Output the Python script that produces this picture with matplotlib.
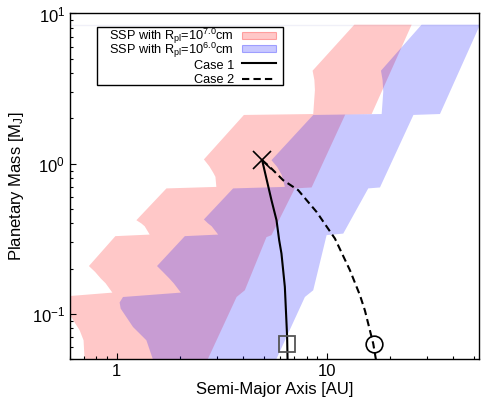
# -*- coding: utf-8 -*-
## SSP regions and planet migration tracks
import matplotlib
matplotlib.use("Agg")
import matplotlib.pyplot as plt
from matplotlib.patches import Rectangle
from matplotlib.ticker import FixedLocator, NullFormatter

plt.rcParams['font.family'] = ['Liberation Sans', 'DejaVu Sans']
plt.rcParams['mathtext.fontset'] = 'custom'
plt.rcParams['mathtext.rm'] = 'Liberation Sans'
plt.rcParams['mathtext.it'] = 'Liberation Sans:italic'

# SSP region, R_pl = 10^7 cm (outline: semi-major axis [AU], mass [MJ])
ssp7_a = [13.5, 8.55, 8.72, 8.77, 8.61, 4.03, 2.60, 2.76, 2.88, 2.95, 2.98, 1.725, 1.241,
          1.31, 1.359, 1.436, 0.986, 0.738, 0.79, 0.84, 0.886, 0.954, 0.524, 0.571, 0.608,
          0.667, 0.696, 0.704, 0.712, 2.50, 2.72, 3.72, 4.07, 5.16, 5.45, 7.04,
          8.46, 12.22, 16.33, 25.3]
ssp7_m = [8.42, 4.16, 3.6, 3.09, 2.14, 2.11, 1.067, 0.96, 0.87, 0.817, 0.700, 0.684, 0.420,
          0.40, 0.383, 0.337, 0.329, 0.208, 0.19, 0.172, 0.1597, 0.1384, 0.1294, 0.1105, 0.0952,
          0.0776, 0.0666, 0.0495, 0.0389, 0.0389, 0.0502, 0.1294, 0.1434, 0.324, 0.334, 0.684,
          0.694, 2.12, 2.14, 8.42]

# SSP region, R_pl = 10^6 cm
ssp6_a = [28.2, 18.08, 18.40, 18.54, 18.22, 8.61, 5.45, 5.80, 6.10, 6.31, 3.58, 2.60, 2.72,
          2.83, 3.04, 2.11, 1.556, 1.66, 1.78, 1.868, 2.02, 1.072, 1.033, 1.045, 1.196,
          1.385, 1.489, 1.517, 5.29, 5.76, 7.86, 8.61, 9.97, 11.96, 15.73,
          17.88, 25.8, 34.5, 53.5]
ssp6_m = [8.42, 4.16, 3.6, 3.01, 2.14, 2.11, 1.055, 0.95, 0.84, 0.700, 0.684, 0.425, 0.40,
          0.383, 0.337, 0.329, 0.208, 0.19, 0.172, 0.1597, 0.1384, 0.1294, 0.119, 0.1083, 0.0817,
          0.0666, 0.0495, 0.0389, 0.0389, 0.0502, 0.1294, 0.1434, 0.334, 0.342, 0.684,
          0.694, 2.11, 2.14, 8.42]

# Case 1 / Case 2 tracks
case1_a = [4.92, 5.45, 5.76, 5.93, 6.08, 6.31, 6.47, 6.50]
case1_m = [1.055, 0.571, 0.420, 0.309, 0.252, 0.151, 0.070, 0.0495]
case2_a = [4.92, 5.35, 6.19, 7.30, 8.93, 10.92, 12.87, 14.36, 15.17, 16.61, 17.11]
case2_m = [1.055, 0.952, 0.776, 0.666, 0.477, 0.317, 0.195, 0.133, 0.105, 0.0633, 0.0495]

# start and end points
start_a, start_m = 4.92, 1.055
end1_a, end1_m = 6.47, 0.0626
end2_a, end2_m = 16.7, 0.0626

labels = [r'SSP with R$_{\rm pl}$=10$^{7.0}$cm', r'SSP with R$_{\rm pl}$=10$^{6.0}$cm',
          'Case 1', 'Case 2']

PINK = (1, 0, 0, 0.215)
BLUE = (0, 0, 1, 0.215)

fig = plt.figure(figsize=(5, 4), dpi=100)
ax = fig.add_axes([0.14, 0.1025, 0.818, 0.8638])

ax.fill(ssp7_a, ssp7_m, facecolor=PINK, edgecolor='none', zorder=1)
ax.fill(ssp6_a, ssp6_m, facecolor=BLUE, edgecolor='none', zorder=2)
ax.axhline(8.42, color='#f0f0f8', lw=1, zorder=0)

ax.plot(case1_a, case1_m, color='black', lw=1.5, zorder=4)
ax.plot(case2_a, case2_m, color='black', lw=1.5, dashes=(3.5, 2), zorder=4)
ax.plot(start_a, start_m, marker='x', ms=13, mew=1.2, color='black', zorder=5)
ax.plot(end1_a, end1_m, marker='s', ms=12, mew=1.3, mfc='none', mec='#555555', zorder=5)
ax.plot(end2_a, end2_m, marker='o', ms=12, mew=1.2, mfc='none', mec='black', zorder=5)

ax.set_xscale('log')
ax.set_yscale('log')
ax.set_xlim(0.6, 52.9)
ax.set_ylim(0.05, 10)

ax.set_xticks([1, 10])
ax.set_xticklabels(['1', '10'])
ax.xaxis.set_minor_locator(FixedLocator([0.6, 0.7, 0.8, 0.9, 2, 3, 4, 5, 6, 7, 8, 9, 20, 30, 40, 50]))
ax.xaxis.set_minor_formatter(NullFormatter())
ax.yaxis.set_minor_formatter(NullFormatter())
ax.tick_params(which='both', direction='in', top=False, right=False, labelsize=12)
ax.tick_params(which='major', length=4.3, width=0.8)
ax.tick_params(which='minor', length=2.4, width=0.8)
for s in ax.spines.values():
    s.set_linewidth(1.0)

ax.set_xlabel('Semi-Major Axis [AU]', fontsize=12, labelpad=2)
ax.set_ylabel(r'Planetary Mass [M$_{\rm J}$]', fontsize=12, labelpad=4)

# legend box drawn by hand (gnuplot style: text on the left, key on the right)
tr = ax.transAxes
ax.add_patch(Rectangle((0.0667, 0.793), 0.4533, 0.167, transform=tr,
                       facecolor='white', edgecolor='black', lw=1.0, zorder=6))
base_y = [0.923, 0.882, 0.839, 0.798]
for lab, y in zip(labels, base_y):
    ax.text(0.401, y, lab, transform=tr, ha='right', va='baseline',
            fontsize=9.2, zorder=7)
ax.add_patch(Rectangle((0.420, 0.926), 0.083, 0.0211, transform=tr,
                       facecolor=PINK, edgecolor=(1, 0, 0, 0.3), lw=0.8, zorder=7))
ax.add_patch(Rectangle((0.420, 0.888), 0.083, 0.0211, transform=tr,
                       facecolor=BLUE, edgecolor=(0, 0, 1, 0.3), lw=0.8, zorder=7))
ax.plot([0.420, 0.503], [0.856, 0.856], transform=tr, color='black', lw=1.5, zorder=7)
ax.plot([0.420, 0.503], [0.810, 0.810], transform=tr, color='black', lw=1.5,
        dashes=(3.5, 2), zorder=7)

plt.savefig('out.png', dpi=100)
